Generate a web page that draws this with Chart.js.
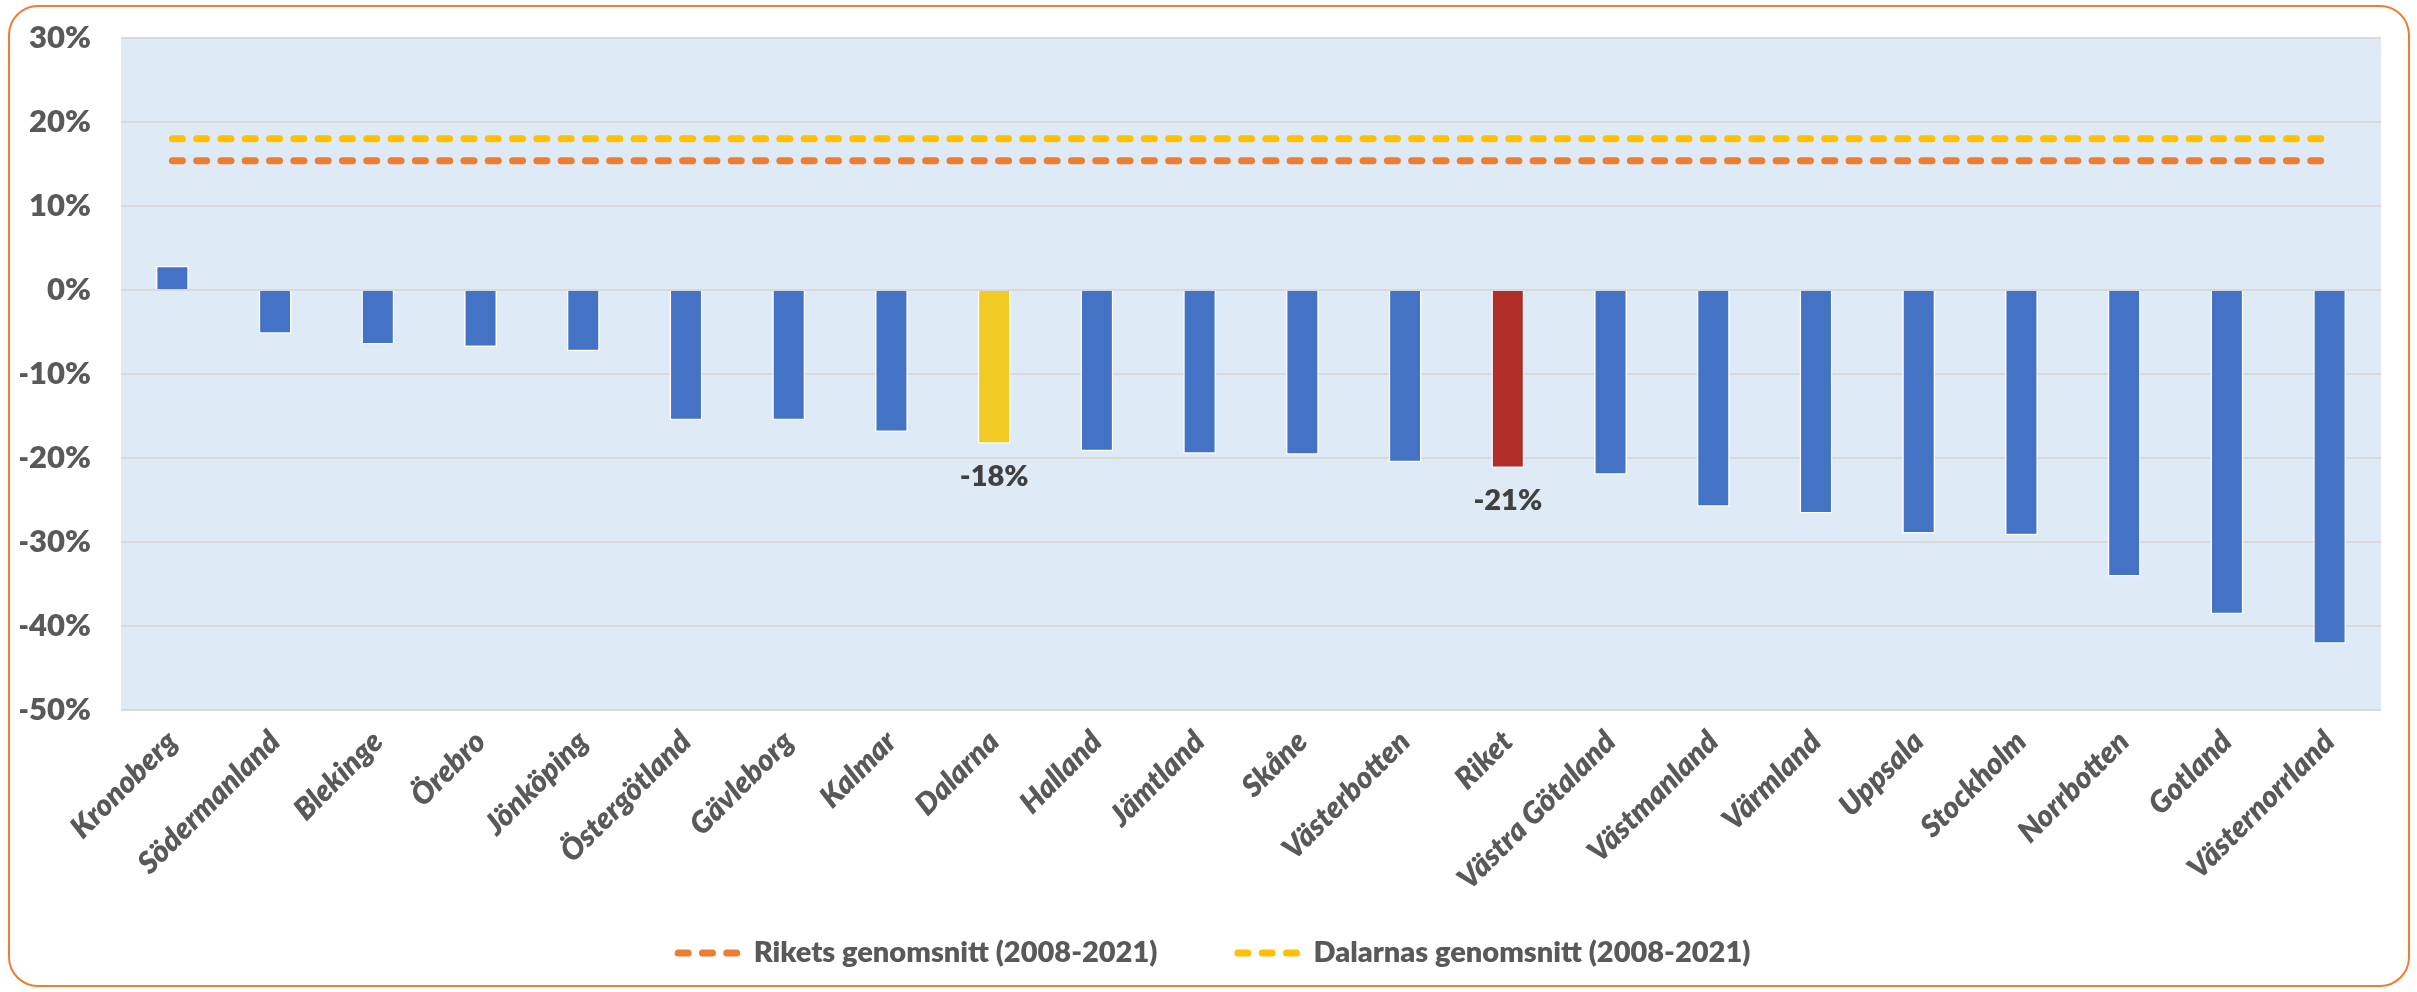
<!DOCTYPE html>
<html lang="sv">
<head>
<meta charset="utf-8">
<title>Förändring per län</title>
<script src="https://cdn.jsdelivr.net/npm/chart.js@4.4.1/dist/chart.umd.min.js"></script>
<style>
    html, body { margin: 0; padding: 0; background: #ffffff; }
    #wrap { position: relative; width: 2417px; height: 992px; }
    #myChart { position: absolute; left: 0; top: 0; }
    #frame {
        position: absolute; left: 8px; top: 5px; width: 2398px; height: 978px;
        border: 2px solid #ED7D31; border-radius: 30px; pointer-events: none;
    }
</style>
</head>
<body>
<div id="wrap">
    <canvas id="myChart" width="2417" height="992"></canvas>
    <div id="frame"></div>
</div>
<script>
// categories (län), sorted as in the original chart
const labels = ['Kronoberg', 'Södermanland', 'Blekinge', 'Örebro', 'Jönköping', 'Östergötland',
    'Gävleborg', 'Kalmar', 'Dalarna', 'Halland', 'Jämtland', 'Skåne', 'Västerbotten', 'Riket',
    'Västra Götaland', 'Västmanland', 'Värmland', 'Uppsala', 'Stockholm', 'Norrbotten',
    'Gotland', 'Västernorrland'];

// change in percent
const values = [2.9, -5.2, -6.5, -6.8, -7.3, -15.5, -15.5, -16.9, -18.3, -19.2, -19.5, -19.6,
    -20.5, -21.2, -22.0, -25.8, -26.6, -29.0, -29.2, -34.1, -38.6, -42.1];

// averages 2008-2021 (horizontal dashed lines)
const rikeAvg = 15.4;
const dalaAvg = 18.0;
const rikeName = 'Rikets genomsnitt (2008-2021)';
const dalaName = 'Dalarnas genomsnitt (2008-2021)';

// bars that get a value label
const labelled = ['Dalarna', 'Riket'];

// y axis
const yMin = -50;
const yMax = 30;
const yStep = 10;

const textGray = '#595959';
const lineDash = [10, 14.3];

// light blue plot background
const plotBackground = {
    id: 'plotBackground',
    beforeDraw(chart) {
        const { ctx, chartArea: a } = chart;
        ctx.save();
        ctx.fillStyle = '#DEEAF6';
        ctx.fillRect(a.left, a.top, a.right - a.left, a.bottom - a.top);
        ctx.restore();
    }
};

// value labels under Dalarna and Riket
const valueLabels = {
    id: 'valueLabels',
    afterDatasetsDraw(chart) {
        const { ctx } = chart;
        const meta = chart.getDatasetMeta(2);
        ctx.save();
        ctx.font = '800 29px Lato';
        ctx.fillStyle = '#404040';
        ctx.textAlign = 'center';
        ctx.textBaseline = 'middle';
        labels.forEach((name, i) => {
            if (!labelled.includes(name)) return;
            const bar = meta.data[i];
            ctx.fillText(Math.round(values[i]) + '%', bar.x, bar.y + 33);
        });
        ctx.restore();
    }
};

// legend for the two dashed lines, drawn below the axis labels
const lineLegend = {
    id: 'lineLegend',
    afterDraw(chart) {
        const { ctx } = chart;
        const items = chart.data.datasets.filter(d => d.type === 'line');
        const sample = 66, gap = 13, between = 77;
        ctx.save();
        ctx.font = '800 29px Lato';
        const widths = items.map(d => ctx.measureText(d.label).width);
        let total = 0;
        widths.forEach((w, i) => { total += sample + gap + w + (i > 0 ? between : 0); });
        let x = chart.width / 2 - total / 2 + 4;
        const y = 953;
        items.forEach((d, i) => {
            ctx.beginPath();
            ctx.setLineDash(d.borderDash);
            ctx.lineCap = 'round';
            ctx.lineWidth = d.borderWidth;
            ctx.strokeStyle = d.borderColor;
            ctx.moveTo(x + 3.5, y);
            ctx.lineTo(x + sample - 3.5, y);
            ctx.stroke();
            ctx.setLineDash([]);
            ctx.fillStyle = textGray;
            ctx.textAlign = 'left';
            ctx.textBaseline = 'middle';
            ctx.fillText(d.label, x + sample + gap, y);
            x += sample + gap + widths[i] + between;
        });
        ctx.restore();
    }
};

function barColor(ctx) {
    const name = labels[ctx.dataIndex];
    if (name === 'Dalarna') return '#F1CB24';
    if (name === 'Riket') return '#B02E27';
    return '#4472C4';
}

const chartCanvas = document.getElementById('myChart');
const myChart = new Chart(chartCanvas, {
    data: {
        labels: labels,
        datasets: [
            {
                type: 'line',
                label: rikeName,
                data: [{ x: labels[0], y: rikeAvg }, { x: labels[labels.length - 1], y: rikeAvg }],
                borderColor: '#ED7D31',
                backgroundColor: '#ED7D31',
                borderWidth: 7,
                borderDash: lineDash,
                borderCapStyle: 'round',
                pointRadius: 0,
                order: 1
            },
            {
                type: 'line',
                label: dalaName,
                data: [{ x: labels[0], y: dalaAvg }, { x: labels[labels.length - 1], y: dalaAvg }],
                borderColor: '#FFC000',
                backgroundColor: '#FFC000',
                borderWidth: 7,
                borderDash: lineDash,
                borderCapStyle: 'round',
                pointRadius: 0,
                order: 2
            },
            {
                type: 'bar',
                label: 'Förändring',
                data: values,
                backgroundColor: barColor,
                borderColor: '#ffffff',
                borderWidth: 1.5,
                barPercentage: 0.32,
                categoryPercentage: 1,
                order: 3
            }
        ]
    },
    options: {
        responsive: false,
        animation: false,
        layout: {
            padding: { left: 20, right: 36, top: 38, bottom: 82 }
        },
        scales: {
            x: {
                offset: true,
                grid: { display: false, drawTicks: false },
                border: { display: false },
                afterFit: (scale) => { scale.height = 200; },
                ticks: {
                    autoSkip: false,
                    minRotation: 45,
                    maxRotation: 45,
                    padding: 14,
                    color: textGray,
                    font: { family: 'Lato', size: 30, weight: 800, style: 'italic' }
                }
            },
            y: {
                min: yMin,
                max: yMax,
                afterFit: (scale) => {
                    // fixed width, and no extra room for the outer tick labels
                    scale.width = 101;
                    scale.paddingTop = 0;
                    scale.paddingBottom = 0;
                },
                grid: { color: '#D9D9D9', lineWidth: 2, drawTicks: false },
                border: { display: false },
                ticks: {
                    stepSize: yStep,
                    padding: 30,
                    color: textGray,
                    font: { family: 'Lato', size: 31, weight: 800 },
                    callback: (v) => v + '%'
                }
            }
        },
        plugins: {
            legend: { display: false },
            tooltip: { enabled: false }
        }
    },
    plugins: [plotBackground, valueLabels, lineLegend]
});
</script>
</body>
</html>
